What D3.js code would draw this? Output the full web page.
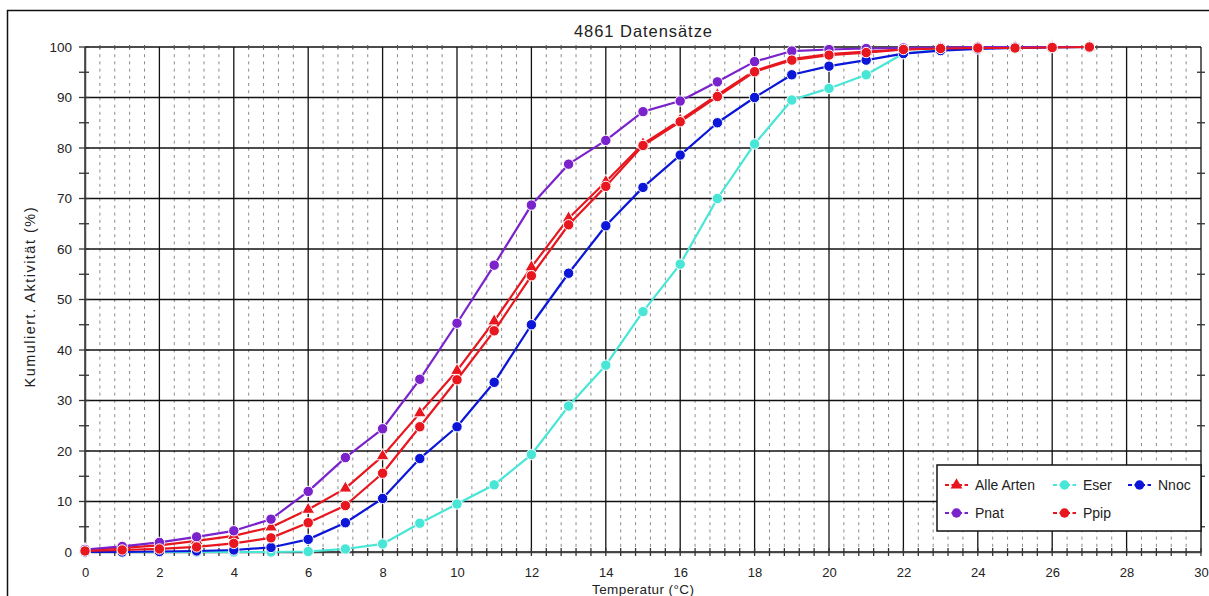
<!DOCTYPE html>
<html>
<head>
<meta charset="utf-8">
<script src="https://cdn.jsdelivr.net/npm/d3@7"></script>
<style>
  html, body { margin: 0; padding: 0; background: #fff; }
  svg { display: block; }
  text { font-family: "Liberation Sans", Arial, Helvetica, sans-serif; fill: #222; }
</style>
</head>
<body>
<svg id="chart" width="1209" height="596"></svg>
<script>
// Temperature steps (°C)
const temps = d3.range(0, 28);

// Cumulative activity (%) per species group
const alleArten = [0.4, 0.8, 1.3, 2.2, 3.2, 4.9, 8.4, 12.6, 19.0, 27.5, 35.9, 45.7, 56.4, 66.1, 73.3, 80.8, 85.5, 90.5, 95.3, 97.6, 98.6, 99.1, 99.5, 99.7, 99.8, 99.9, 100, 100];
const eser      = [0, 0, 0, 0, 0, 0, 0.1, 0.6, 1.6, 5.7, 9.5, 13.3, 19.3, 28.9, 37.0, 47.6, 57.0, 70.0, 80.8, 89.5, 91.8, 94.5, 98.7, 99.5, 99.8, 99.9, 100, 100];
const nnoc      = [0, 0, 0.1, 0.2, 0.4, 0.9, 2.5, 5.8, 10.6, 18.5, 24.8, 33.6, 45.0, 55.2, 64.6, 72.2, 78.6, 85.0, 90.0, 94.5, 96.2, 97.4, 98.7, 99.3, 99.6, 99.8, 99.9, 100];
const pnat      = [0.5, 1.1, 1.9, 3.0, 4.2, 6.5, 12.0, 18.7, 24.4, 34.2, 45.3, 56.8, 68.7, 76.8, 81.5, 87.2, 89.3, 93.1, 97.1, 99.2, 99.5, 99.7, 99.8, 99.9, 100, 100, 100, 100];
const ppip      = [0.2, 0.4, 0.6, 1.0, 1.7, 2.8, 5.8, 9.2, 15.6, 24.8, 34.1, 43.8, 54.7, 64.8, 72.4, 80.5, 85.2, 90.2, 95.1, 97.4, 98.4, 98.9, 99.5, 99.7, 99.8, 99.8, 99.9, 100];

const seriesNames = ["Alle Arten", "Eser", "Nnoc", "Pnat", "Ppip"];
const seriesValues = [alleArten, eser, nnoc, pnat, ppip];
const seriesColors = ["#e8161e", "#48e6d6", "#0b16d8", "#7a22cc", "#e8161e"];
const seriesSymbols = ["triangle", "circle", "circle", "circle", "circle"];

const xTicks = d3.range(0, 31, 2);
const yTicks = d3.range(0, 101, 10);
const xMinor = d3.range(0, 75).map(i => +(i * 0.4).toFixed(1)).filter(v => Math.abs(v / 2 - Math.round(v / 2)) > 1e-6);
const yMinor = d3.range(5, 100, 10);

const chartTitle = "4861 Datensätze";
const xTitle = "Temperatur (°C)";
const yTitle = "Kumuliert. Aktivität (%)";

const svg = d3.select("#chart");
const W = 1209, H = 596;
const m = { left: 85, right: 8, top: 47, bottom: 44 };

// Outer frame
svg.append("rect")
  .attr("x", 7.5).attr("y", 10.5)
  .attr("width", W + 10).attr("height", H + 10)
  .attr("fill", "#fff").attr("stroke", "#111").attr("stroke-width", 1.5);

const x = d3.scaleLinear().domain([0, 30]).range([m.left, W - m.right]);
const y = d3.scaleLinear().domain([0, 100]).range([H - m.bottom, m.top]);

// Dashed minor vertical grid
svg.append("g").selectAll("line").data(xMinor).join("line")
  .attr("x1", d => x(d)).attr("x2", d => x(d))
  .attr("y1", y(100)).attr("y2", y(0))
  .attr("stroke", "#8a8a8a").attr("stroke-width", 1)
  .attr("stroke-dasharray", "3,4.2");

// Major grid
svg.append("g").selectAll("line").data(xTicks).join("line")
  .attr("x1", d => x(d)).attr("x2", d => x(d))
  .attr("y1", y(100)).attr("y2", y(0))
  .attr("stroke", "#111").attr("stroke-width", 1.3);
svg.append("g").selectAll("line").data(yTicks).join("line")
  .attr("x1", x(0)).attr("x2", x(30))
  .attr("y1", d => y(d)).attr("y2", d => y(d))
  .attr("stroke", "#111").attr("stroke-width", 1.3);

// Axes
const xAxis = d3.axisBottom(x).tickValues(xTicks).tickSize(0).tickPadding(16);
const gx = svg.append("g").attr("transform", `translate(0,${y(0)})`).call(xAxis);
gx.select(".domain").attr("stroke", "#444").attr("stroke-width", 1.5);
gx.selectAll("text").attr("font-size", 13).attr("fill", "#222")
  .style("font-family", "'Liberation Sans', Arial, sans-serif");

const yAxis = d3.axisLeft(y).tickValues(yTicks).tickSize(0).tickPadding(13);
const gy = svg.append("g").attr("transform", `translate(${x(0)},0)`).call(yAxis);
gy.select(".domain").attr("stroke", "#444").attr("stroke-width", 1.5);
gy.selectAll("text").attr("font-size", 13.5).attr("fill", "#222")
  .style("font-family", "'Liberation Sans', Arial, sans-serif");

// Minor tick marks crossing the axes
svg.append("g").selectAll("line").data(xMinor.concat(xTicks)).join("line")
  .attr("x1", d => x(d)).attr("x2", d => x(d))
  .attr("y1", y(0) - 4).attr("y2", y(0) + 4)
  .attr("stroke", "#333").attr("stroke-width", 1.3);
svg.append("g").selectAll("line").data(xMinor).join("line")
  .attr("x1", d => x(d)).attr("x2", d => x(d))
  .attr("y1", y(100) - 2).attr("y2", y(100) + 2)
  .attr("stroke", "#555").attr("stroke-width", 1);
svg.append("g").selectAll("line").data(yMinor.concat(yTicks)).join("line")
  .attr("x1", x(0) - 6).attr("x2", x(0) + 4)
  .attr("y1", d => y(d)).attr("y2", d => y(d))
  .attr("stroke", "#333").attr("stroke-width", 1.3);
svg.append("g").selectAll("line").data(yMinor).join("line")
  .attr("x1", x(30) - 4).attr("x2", x(30) + 4)
  .attr("y1", d => y(d)).attr("y2", d => y(d))
  .attr("stroke", "#333").attr("stroke-width", 1.3);

// Series
const line = d3.line().x((d, i) => x(temps[i])).y(d => y(d));
const symGen = s => d3.symbol().type(s === "triangle" ? d3.symbolTriangle : d3.symbolCircle)
  .size(s === "triangle" ? 72 : 85);

seriesValues.forEach((vals, k) => {
  const g = svg.append("g");
  g.append("path").datum(vals)
    .attr("d", line)
    .attr("fill", "none")
    .attr("stroke", seriesColors[k])
    .attr("stroke-width", 2.2)
    .attr("stroke-linejoin", "round");
  g.selectAll("path.pt").data(vals).join("path")
    .attr("class", "pt")
    .attr("transform", (d, i) => `translate(${x(temps[i])},${y(d)})`)
    .attr("d", symGen(seriesSymbols[k]))
    .attr("fill", seriesColors[k])
    .attr("stroke", "#fff").attr("stroke-width", 1);
});

// Titles
svg.append("text").attr("x", (x(0) + x(30)) / 2).attr("y", 37)
  .attr("text-anchor", "middle").attr("font-size", 16.5)
  .attr("textLength", 138).attr("lengthAdjust", "spacing").text(chartTitle);
svg.append("text").attr("x", (x(0) + x(30)) / 2).attr("y", 593.5)
  .attr("text-anchor", "middle").attr("font-size", 13.5)
  .attr("textLength", 102).attr("lengthAdjust", "spacing").text(xTitle);
svg.append("text")
  .attr("transform", `translate(35,${(y(0) + y(100)) / 2 - 2}) rotate(-90)`)
  .attr("text-anchor", "middle").attr("font-size", 14.5)
  .attr("textLength", 180).attr("lengthAdjust", "spacing").text(yTitle);

// Legend
const lg = svg.append("g");
lg.append("rect").attr("x", 937).attr("y", 465).attr("width", 264).attr("height", 66)
  .attr("fill", "#fff").attr("stroke", "#111").attr("stroke-width", 1.5);
const legendPos = [[945, 485], [1053, 485], [1128, 485], [945, 513], [1053, 513]];
seriesNames.forEach((name, k) => {
  const [lx, ly] = legendPos[k];
  lg.append("line").attr("x1", lx).attr("x2", lx + 23).attr("y1", ly).attr("y2", ly)
    .attr("stroke", seriesColors[k]).attr("stroke-width", 2).attr("stroke-dasharray", "4,2.5");
  lg.append("path").attr("transform", `translate(${lx + 11.5},${ly})`)
    .attr("d", d3.symbol().type(seriesSymbols[k] === "triangle" ? d3.symbolTriangle : d3.symbolCircle)
      .size(seriesSymbols[k] === "triangle" ? 60 : 70))
    .attr("fill", seriesColors[k]);
  lg.append("text").attr("x", lx + 30).attr("y", ly + 5).attr("font-size", 14).text(name);
});
</script>
</body>
</html>
